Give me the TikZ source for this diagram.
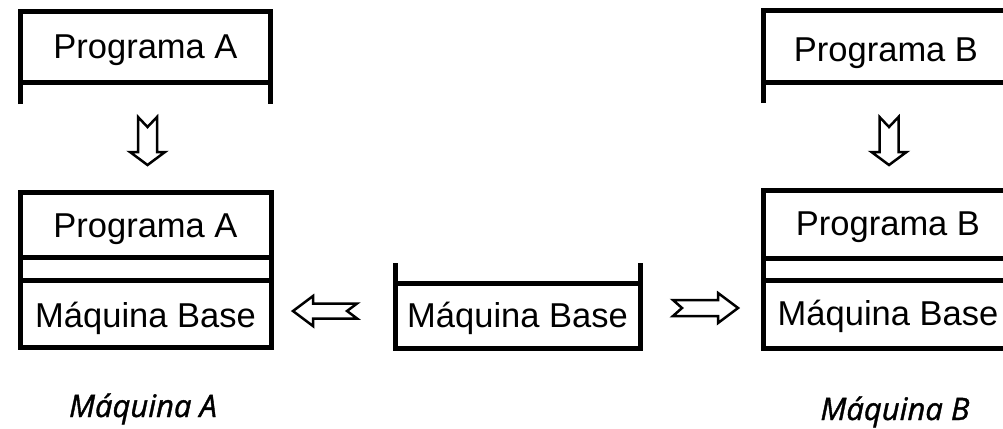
\documentclass[tikz,border=0pt]{standalone}
\usepackage{fontspec}
\setmainfont{Liberation Sans}
\newfontfamily\capfont{Open Sans}
\begin{document}
\begin{tikzpicture}[x=1pt,y=-1pt,
  box/.style={line width=5pt, line join=miter, line cap=butt},
  lbl/.style={font=\fontsize{34.5}{40}\selectfont, anchor=base, inner sep=0pt},
  captxt/.style={font=\capfont\itshape\addfontfeatures{FakeBold=1.2}\fontsize{31}{36}\selectfont, anchor=base, inner sep=0pt},
  harrow/.style={draw, line width=2.5pt, fill=white, line join=miter},
  downarrow/.pic={\draw[harrow] (-9.5,0) -- (0,10) -- (9.5,0) -- (9.5,35) -- (17.5,35) -- (0,48) -- (-17.5,35) -- (-9.5,35) -- cycle;}
]
\useasboundingbox (0,0) rectangle (1003,428);
\clip (0,0) rectangle (1003,428);

% Maquina A column
\draw[box] (20,104) -- (20,12) -- (270,12) -- (270,104);
\draw[box] (20,82) -- (270,82);
\node[lbl] (pa1) at (145.5,59) {Programa A};
\pic at (147.5,117) {downarrow};
\draw[box] (20,192) rectangle (271,347);
\draw[box] (20,257) -- (271,257);
\draw[box] (20,280) -- (271,280);
\node[lbl] (pa2) at (145.5,237) {Programa A};
\node[lbl] (mba) at (145.5,327) {Máquina Base};
\node[captxt] (capa) at (143,417) {Máquina A};

% centre base machine
\draw[box] (395,263) -- (395,348) -- (640,348) -- (640,263);
\draw[box] (395,283) -- (640,283);
\node[lbl] (mbc) at (517.5,327) {Máquina Base};

% arrows left and right
\draw[harrow] (293,311) -- (313,296) -- (313,303.5) -- (357,303.5) -- (347,311) -- (357,318.5) -- (313,318.5) -- (313,326) -- cycle;
\draw[harrow] (738,308) -- (718,293) -- (718,300) -- (673,300) -- (682,308) -- (673,316) -- (718,316) -- (718,323) -- cycle;

% Maquina B column
\draw[box] (763,103) -- (763,11) -- (1015,11) -- (1015,103);
\draw[box] (763,82) -- (1015,82);
\node[lbl] (pb1) at (886,62) {Programa B};
\pic at (889,117) {downarrow};
\draw[box] (763,190) rectangle (1015,348);
\draw[box] (763,258) -- (1015,258);
\draw[box] (763,280) -- (1015,280);
\node[lbl] (pb2) at (888,235) {Programa B};
\node[lbl] (mbb) at (888,325) {Máquina Base};
\node[captxt] (capb) at (895,420) {Máquina B};
\end{tikzpicture}
\end{document}
